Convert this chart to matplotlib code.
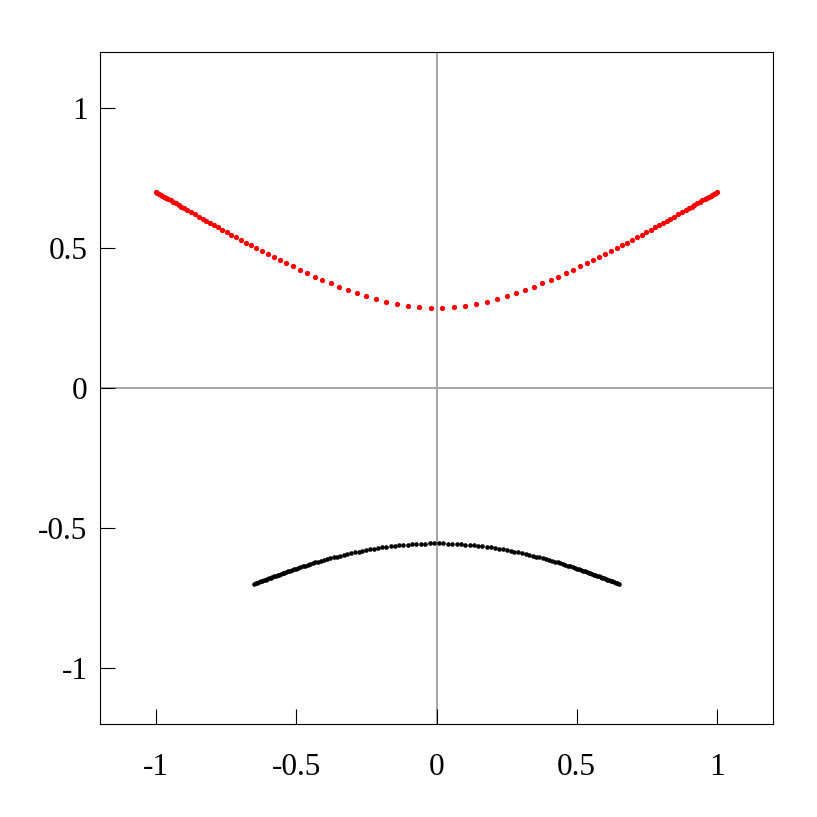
import numpy as np
import matplotlib
matplotlib.use("Agg")
import matplotlib.pyplot as plt

# upper branch (red dots)
red_x = [-1.0, -0.995, -0.99, -0.984, -0.978, -0.971, -0.964, -0.956, -0.948, -0.939,
         -0.93, -0.92, -0.91, -0.899, -0.888, -0.876, -0.863, -0.847, -0.833, -0.821,
         -0.807, -0.792, -0.778, -0.764, -0.748, -0.732, -0.715, -0.697, -0.679, -0.662,
         -0.643, -0.622, -0.602, -0.581, -0.558, -0.536, -0.512, -0.487, -0.461, -0.434,
         -0.407, -0.378, -0.347, -0.317, -0.285, -0.251, -0.216, -0.179, -0.1404, -0.1011,
         -0.0607, -0.0205,
         0.0205, 0.0607, 0.1011, 0.1404, 0.179, 0.216, 0.251, 0.285, 0.317, 0.347,
         0.378, 0.407, 0.434, 0.461, 0.487, 0.512, 0.536, 0.558, 0.581, 0.602,
         0.622, 0.643, 0.662, 0.679, 0.697, 0.715, 0.732, 0.748, 0.764, 0.778,
         0.792, 0.807, 0.821, 0.833, 0.847, 0.863, 0.876, 0.888, 0.899, 0.91,
         0.92, 0.93, 0.939, 0.948, 0.956, 0.964, 0.971, 0.978, 0.984, 0.99,
         0.995, 1.0]
red_y = [0.7001, 0.6972, 0.6943, 0.6908, 0.6873, 0.6832, 0.6792, 0.6745, 0.6699, 0.6647,
         0.6595, 0.6537, 0.648, 0.6417, 0.6354, 0.6285, 0.6211, 0.6121, 0.6042, 0.5974,
         0.5895, 0.5812, 0.5734, 0.5656, 0.5568, 0.548, 0.5388, 0.5291, 0.5194, 0.5103,
         0.5003, 0.4893, 0.479, 0.4683, 0.4567, 0.4458, 0.4341, 0.4221, 0.41, 0.3978,
         0.3859, 0.3737, 0.3612, 0.3497, 0.3383, 0.3271, 0.3167, 0.3071, 0.2988, 0.2922,
         0.2876, 0.2853,
         0.2853, 0.2876, 0.2922, 0.2988, 0.3071, 0.3167, 0.3271, 0.3383, 0.3497, 0.3612,
         0.3737, 0.3859, 0.3978, 0.41, 0.4221, 0.4341, 0.4458, 0.4567, 0.4683, 0.479,
         0.4893, 0.5003, 0.5103, 0.5194, 0.5291, 0.5388, 0.548, 0.5568, 0.5656, 0.5734,
         0.5812, 0.5895, 0.5974, 0.6042, 0.6121, 0.6211, 0.6285, 0.6354, 0.6417, 0.648,
         0.6537, 0.6595, 0.6647, 0.6699, 0.6745, 0.6792, 0.6832, 0.6873, 0.6908, 0.6943,
         0.6972, 0.7001]

# lower branch (black dots)
black_x = [-0.65, -0.645, -0.639, -0.633, -0.627, -0.621, -0.615, -0.609, -0.603, -0.597,
           -0.591, -0.585, -0.579, -0.573, -0.567, -0.561, -0.555, -0.549, -0.543, -0.536,
           -0.529, -0.522, -0.515, -0.508, -0.501, -0.493, -0.485, -0.477, -0.469, -0.46,
           -0.451, -0.442, -0.432, -0.422, -0.412, -0.401, -0.39, -0.379, -0.367, -0.355,
           -0.343, -0.331, -0.318, -0.305, -0.292, -0.278, -0.265, -0.251, -0.237, -0.223,
           -0.208, -0.194, -0.179, -0.164, -0.149, -0.134, -0.118, -0.103, -0.087, -0.072,
           -0.056, -0.04, -0.024, -0.008,
           0.008, 0.024, 0.04, 0.056, 0.072, 0.087, 0.103, 0.118, 0.134, 0.149,
           0.164, 0.179, 0.194, 0.208, 0.223, 0.237, 0.251, 0.265, 0.278, 0.292,
           0.305, 0.318, 0.331, 0.343, 0.355, 0.367, 0.379, 0.39, 0.401, 0.412,
           0.422, 0.432, 0.442, 0.451, 0.46, 0.469, 0.477, 0.485, 0.493, 0.501,
           0.508, 0.515, 0.522, 0.529, 0.536, 0.543, 0.549, 0.555, 0.561, 0.567,
           0.573, 0.579, 0.585, 0.591, 0.597, 0.603, 0.609, 0.615, 0.621, 0.627,
           0.633, 0.639, 0.645, 0.65]
black_y = [-0.7001, -0.6981, -0.6957, -0.6933, -0.691, -0.6886, -0.6863, -0.684, -0.6817, -0.6794,
           -0.6772, -0.6749, -0.6727, -0.6705, -0.6683, -0.6661, -0.6639, -0.6617, -0.6596, -0.6571,
           -0.6547, -0.6523, -0.6499, -0.6475, -0.6451, -0.6425, -0.6398, -0.6372, -0.6347, -0.6318,
           -0.629, -0.6263, -0.6232, -0.6203, -0.6174, -0.6143, -0.6112, -0.6082, -0.605, -0.6019,
           -0.5989, -0.596, -0.5929, -0.59, -0.5872, -0.5842, -0.5816, -0.5789, -0.5764, -0.574,
           -0.5715, -0.5694, -0.5673, -0.5653, -0.5635, -0.5619, -0.5604, -0.5591, -0.5579, -0.557,
           -0.5562, -0.5556, -0.5552, -0.555,
           -0.555, -0.5552, -0.5556, -0.5562, -0.557, -0.5579, -0.5591, -0.5604, -0.5619, -0.5635,
           -0.5653, -0.5673, -0.5694, -0.5715, -0.574, -0.5764, -0.5789, -0.5816, -0.5842, -0.5872,
           -0.59, -0.5929, -0.596, -0.5989, -0.6019, -0.605, -0.6082, -0.6112, -0.6143, -0.6174,
           -0.6203, -0.6232, -0.6263, -0.629, -0.6318, -0.6347, -0.6372, -0.6398, -0.6425, -0.6451,
           -0.6475, -0.6499, -0.6523, -0.6547, -0.6571, -0.6596, -0.6617, -0.6639, -0.6661, -0.6683,
           -0.6705, -0.6727, -0.6749, -0.6772, -0.6794, -0.6817, -0.684, -0.6863, -0.6886, -0.691,
           -0.6933, -0.6957, -0.6981, -0.7001]

ticks = [-1, -0.5, 0, 0.5, 1]
tick_labels = ["-1", "-0.5", "0", "0.5", "1"]

plt.rcParams['font.family'] = ['Liberation Serif', 'DejaVu Serif']
plt.rcParams['axes.unicode_minus'] = False

fig = plt.figure(figsize=(8.17, 8.17), dpi=100)
ax = fig.add_axes([100/817, 1 - 724/817, 673/817, 672/817])

ax.axhline(0, color="#a6a6a6", lw=1.4, zorder=1)
ax.axvline(0, color="#a6a6a6", lw=1.4, zorder=1)

ax.plot(red_x, red_y, "o", color="red", ms=3.8, mew=0, zorder=3)
ax.plot(black_x, black_y, "o", color="black", ms=3.3, mew=0, zorder=3)

ax.set_xlim(-1.2, 1.2)
ax.set_ylim(-1.2, 1.2)
ax.set_xticks(ticks)
ax.set_xticklabels(tick_labels)
ax.set_yticks(ticks)
ax.set_yticklabels(tick_labels)
ax.tick_params(direction="in", length=11, width=0.8, labelsize=22.5)
ax.tick_params(axis="x", pad=21)
ax.tick_params(axis="y", pad=9)
for s in ax.spines.values():
    s.set_linewidth(0.8)

fig.savefig("out.png", dpi=100)
